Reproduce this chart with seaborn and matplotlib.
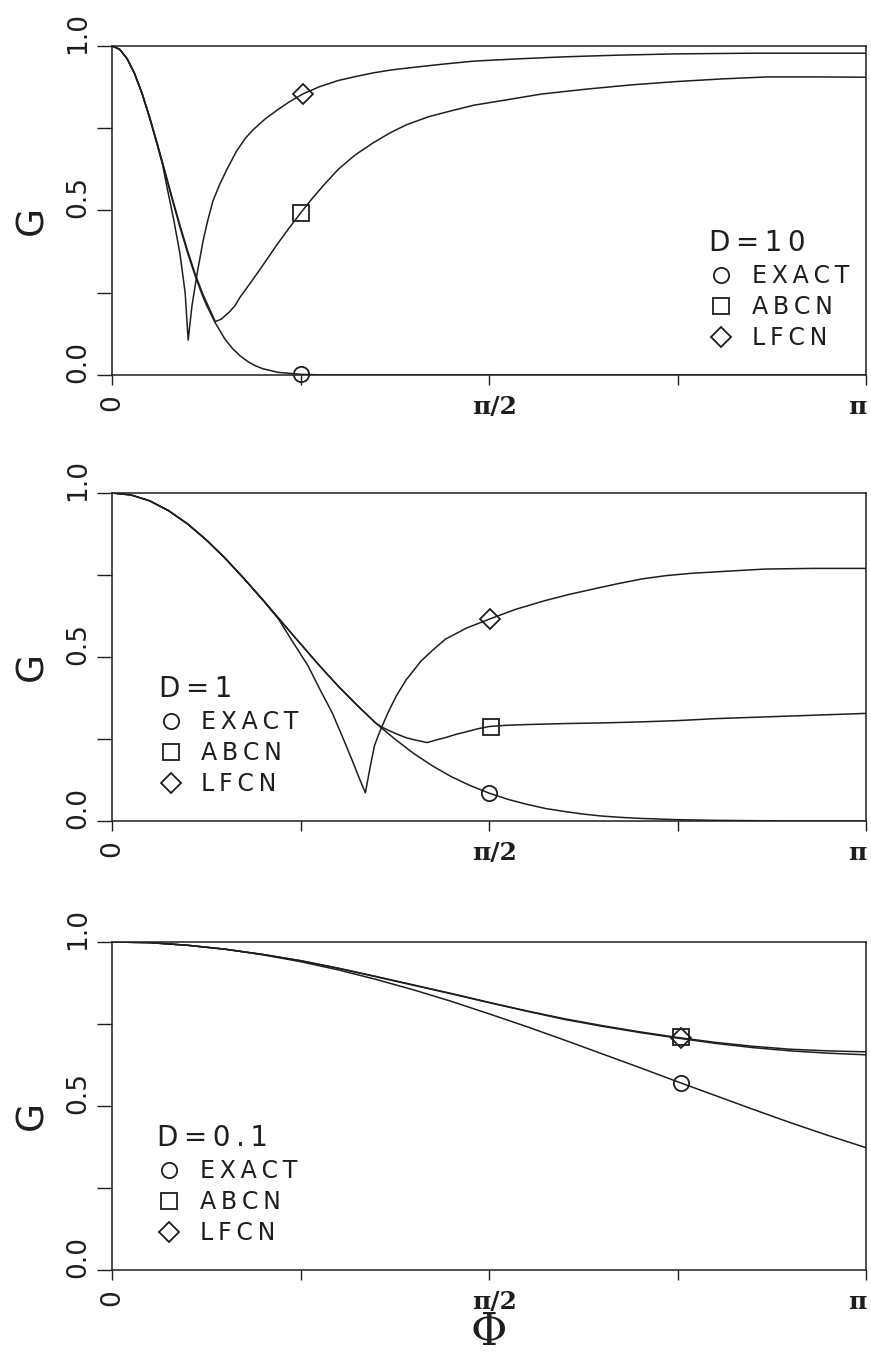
import matplotlib
matplotlib.use("Agg")
import numpy as np
import pandas as pd
import matplotlib.pyplot as plt
import seaborn as sns
from matplotlib.transforms import ScaledTranslation

# Amplification factor G versus wave number phi (phi given in units of pi),
# three diffusion numbers D, three schemes.

sns.set_theme(style="ticks")
plt.rcParams['font.family'] = ['DejaVu Sans']

INK = '#1e1e1e'

# ---- D = 10 ----
exact10_x = [0, .01, .02, .03, .04, .05, .06, .07, .08, .09, .10, .11, .12, .125, .137, .15, .16,
             .17, .18, .19, .20, .22, .25, .28, .40, .60, .80, 1.0]
exact10_g = [1.0, .990, .961, .915, .854, .781, .701, .617, .532, .450, .373, .303, .241, .214,
             .158, .108, .080, .058, .041, .028, .019, .008, .002, 0, 0, 0, 0, 0]
abcn10_x = [0, .01, .02, .03, .04, .05, .06, .07, .08, .09, .10, .11, .12, .137, .145, .155, .163,
            .17, .183, .196, .208, .22, .235, .25, .265, .28, .30, .322, .346, .368, .39, .42, .45,
            .48, .52, .57, .63, .69, .75, .81, .87, .93, 1.0]
abcn10_g = [1.0, .990, .962, .917, .856, .784, .704, .621, .537, .456, .379, .309, .248, .162,
            .170, .190, .210, .237, .278, .32, .36, .40, .447, .492, .535, .575, .625, .668, .705,
            .735, .76, .785, .803, .82, .835, .854, .869, .882, .892, .900, .906, .906, .905]
lfcn10_x = [0, .01, .02, .03, .04, .05, .06, .067, .073, .082, .090, .097, .101, .106, .113, .121,
            .127, .134, .143, .152, .165, .177, .187, .203, .219, .235, .253, .275, .30, .325,
            .346, .37, .40, .44, .48, .54, .60, .67, .75, .85, 1.0]
lfcn10_g = [1.0, .990, .961, .915, .854, .780, .699, .64, .57, .47, .37, .25, .106, .21, .31, .41,
            .47, .53, .58, .623, .68, .72, .745, .778, .805, .83, .854, .876, .895, .908, .918,
            .927, .935, .945, .954, .961, .967, .972, .976, .978, .978]
mark10_x = [.25, .25, .253]
mark10_g = [.002, .492, .854]

# ---- D = 1 ----
exact1_x = [0, .025, .05, .075, .10, .125, .15, .175, .20, .225, .25, .275, .30, .325, .35, .375,
            .40, .425, .45, .475, .50, .525, .55, .575, .60, .625, .65, .675, .70, .75, .80, .90,
            1.0]
exact1_g = [1.0, .994, .976, .946, .906, .857, .801, .739, .674, .607, .540, .474, .411, .353,
            .298, .250, .206, .168, .135, .108, .085, .066, .051, .038, .029, .021, .015, .011,
            .008, .004, .002, 0, 0]
abcn1_x = [0, .025, .05, .075, .10, .125, .15, .175, .20, .225, .25, .275, .30, .325, .35, .358,
           .368, .38, .39, .40, .41, .418, .43, .442, .456, .47, .485, .50, .525, .55, .60, .65,
           .70, .75, .80, .85, .90, .95, 1.0]
abcn1_g = [1.0, .994, .976, .946, .906, .857, .801, .739, .674, .607, .540, .474, .411, .353,
           .298, .286, .275, .263, .254, .248, .243, .239, .247, .254, .264, .272, .281, .288,
           .292, .294, .297, .299, .302, .306, .312, .316, .320, .324, .328]
lfcn1_x = [0, .025, .05, .075, .10, .125, .15, .175, .20, .221, .24, .26, .276, .292, .305, .318,
           .328, .336, .342, .348, .353, .358, .367, .377, .39, .41, .425, .442, .47, .50, .535,
           .573, .605, .638, .67, .703, .735, .768, .82, .866, .93, 1.0]
lfcn1_g = [1.0, .994, .976, .946, .906, .857, .801, .739, .674, .615, .545, .473, .40, .33, .26,
           .188, .13, .086, .16, .229, .26, .288, .335, .381, .43, .488, .52, .554, .588, .615,
           .645, .671, .69, .707, .723, .738, .748, .755, .762, .768, .770, .770]
mark1_x = [.50, .502, .501]
mark1_g = [.085, .288, .615]

# ---- D = 0.1 ----
grid01_x = [0, .05, .10, .15, .20, .25, .30, .35, .40, .45, .50, .55, .60, .65, .70, .75, .80, .85,
            .90, .95, 1.0]
exact01_g = [1.0, .998, .990, .978, .961, .940, .915, .886, .854, .819, .781, .742, .701, .659, .617,
             .574, .532, .490, .449, .410, .373]
abcn01_g = [1.0, .998, .990, .978, .962, .943, .920, .895, .869, .843, .816, .790, .766, .745, .726,
            .709, .694, .682, .673, .668, .665]
lfcn01_g = [1.0, .998, .990, .978, .962, .943, .920, .894, .868, .842, .815, .789, .764, .743, .724,
            .707, .691, .678, .668, .661, .656]
mark01_x = [.755, .755, .755]
mark01_g = [.570, .709, .707]

schemes = ['EXACT', 'ABCN', 'LFCN']
markers = ['o', 's', 'D']
marker_sizes = [11, 11, 10]
x_ticks = [0, .25, .5, .75, 1.0]
x_labels = ['0', '', 'π/2', '', 'π']
y_ticks = [0, .25, .5, .75, 1.0]
y_labels = ['0.0', '', '0.5', '', '1.0']


def spaced(s):
    return '\u2009'.join(s)


panels = [
    dict(title='D=10', rect=[0.1286, 0.7251, 0.8657, 0.2412], leg=(0.792, 0.075),
         curves=[(exact10_x, exact10_g), (abcn10_x, abcn10_g), (lfcn10_x, lfcn10_g)],
         marks=(mark10_x, mark10_g)),
    dict(title='D=1', rect=[0.1286, 0.3981, 0.8657, 0.2405], leg=(0.062, 0.075),
         curves=[(exact1_x, exact1_g), (abcn1_x, abcn1_g), (lfcn1_x, lfcn1_g)],
         marks=(mark1_x, mark1_g)),
    dict(title='D=0.1', rect=[0.1286, 0.0689, 0.8657, 0.2405], leg=(0.06, 0.075),
         curves=[(grid01_x, exact01_g), (grid01_x, abcn01_g), (grid01_x, lfcn01_g)],
         marks=(mark01_x, mark01_g)),
]

fig = plt.figure(figsize=(8.71, 13.64), dpi=100)

for i, p in enumerate(panels):
    ax = fig.add_axes(p['rect'])
    frames = []
    for name, (xs, gs) in zip(schemes, p['curves']):
        frames.append(pd.DataFrame({'phi': xs, 'G': gs, 'scheme': name}))
    df = pd.concat(frames, ignore_index=True)
    sns.lineplot(data=df, x='phi', y='G', hue='scheme', palette={s: INK for s in schemes},
                 estimator=None, lw=1.1, legend=False, ax=ax)

    handles = []
    mx, mg = p['marks']
    for name, m, ms, x, g in zip(schemes, markers, marker_sizes, mx, mg):
        h, = ax.plot([x], [g], marker=m, ls='none', mfc='none', mec=INK, ms=ms, mew=1.3,
                     label=spaced(name), clip_on=False, zorder=5)
        handles.append(h)

    leg = ax.legend(handles=handles, title=spaced(p['title']), loc='lower left',
                    bbox_to_anchor=p['leg'], frameon=False, fontsize=17, title_fontsize=20,
                    alignment='left', handlelength=1.0, handletextpad=0.8, labelspacing=0.3,
                    borderpad=0, borderaxespad=0, labelcolor=INK)
    leg.get_title().set_color(INK)

    ax.set_xlim(0, 1)
    ax.set_ylim(0, 1)
    ax.set_xticks(x_ticks)
    ax.set_xticklabels(x_labels)
    ax.set_yticks(y_ticks)
    ax.set_yticklabels(y_labels)
    ax.set_xlabel('')
    ax.set_ylabel('G', fontsize=27, color=INK, rotation=90)
    ax.yaxis.set_label_coords(-0.082, 0.47)

    for sp in ax.spines.values():
        sp.set_visible(True)
        sp.set_linewidth(1.1)
        sp.set_color(INK)

    ax.tick_params(axis='y', direction='out', length=10.8, width=1.0, pad=4,
                   labelsize=19, colors=INK)
    ax.tick_params(axis='x', direction='out', length=7.2, width=1.0, pad=7,
                   labelsize=19, colors=INK)

    shift = ScaledTranslation(0, 0.13, fig.dpi_scale_trans)
    for lab in ax.get_yticklabels():
        lab.set_rotation(90)
        lab.set_va('center')
        lab.set_transform(lab.get_transform() + shift)

    for lab in ax.get_xticklabels():
        txt = lab.get_text()
        if txt == '0':
            lab.set_rotation(90)
        elif txt:
            lab.set_fontfamily('DejaVu Serif')
            lab.set_fontweight('bold')
            lab.set_fontsize(18)
            if txt == 'π':
                lab.set_ha('right')
            else:
                lab.set_transform(lab.get_transform() +
                                  ScaledTranslation(0.06, 0, fig.dpi_scale_trans))

    if i == 2:
        ax.set_xlabel('Φ', fontsize=32, family='DejaVu Serif', color=INK)
        ax.xaxis.set_label_coords(0.5, -0.125)

fig.savefig('out.png', dpi=100)
